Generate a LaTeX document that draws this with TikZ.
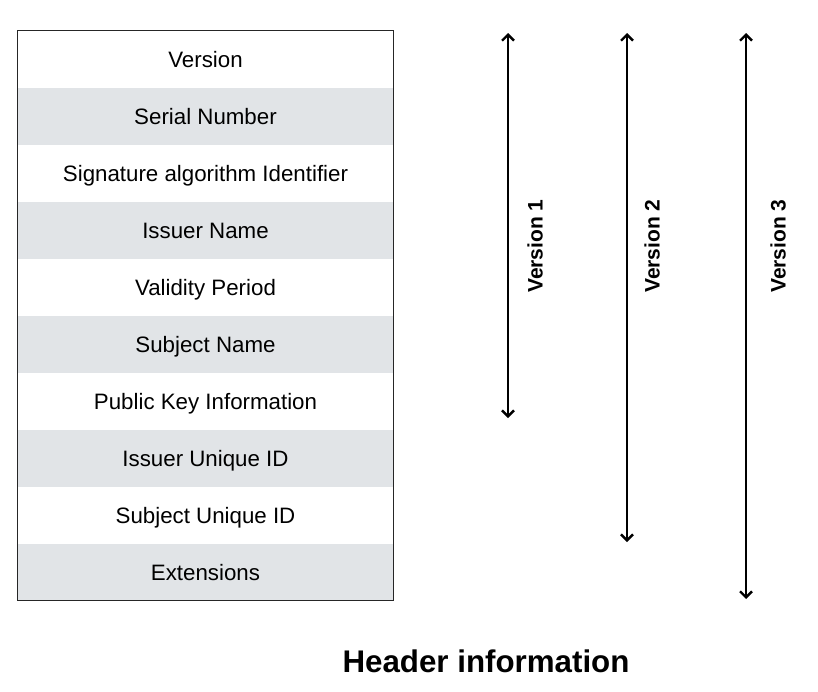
\documentclass[tikz,border=0pt]{standalone}
\usepackage{fontspec}
\setmainfont{Liberation Sans}
\definecolor{rowgray}{RGB}{225, 228, 231}
\usetikzlibrary{arrows.meta}

\begin{document}
\begin{tikzpicture}[x=1pt, y=1pt]
[every node/.style={inner sep=0pt}]
\useasboundingbox (0pt, 0pt) rectangle (818pt, -691pt);
\tikzset{field/.style={minimum width=376pt, minimum height=57pt, inner sep=0pt, text height=16pt, text depth=0pt, font=\fontsize{22.3}{24}\selectfont},
         span/.style={line width=2.4pt, {Straight Barb[length=6pt, width=12pt]}-{Straight Barb[length=6pt, width=12pt]}},
         spanlabel/.style={rotate=90, inner sep=0pt, font=\fontsize{21}{24}\selectfont\bfseries}}
\node (r1) [field] at (205.5pt, -59.5pt) {Version};
\node (r2) [field, fill=rowgray] at (205.5pt, -116.5pt) {Serial Number};
\node (r3) [field] at (205.5pt, -173.5pt) {Signature algorithm Identifier};
\node (r4) [field, fill=rowgray] at (205.5pt, -230.5pt) {Issuer Name};
\node (r5) [field] at (205.5pt, -287.5pt) {Validity Period};
\node (r6) [field, fill=rowgray] at (205.5pt, -344.5pt) {Subject Name};
\node (r7) [field] at (205.5pt, -401.5pt) {Public Key Information};
\node (r8) [field, fill=rowgray] at (205.5pt, -458.5pt) {Issuer Unique ID};
\node (r9) [field] at (205.5pt, -515.5pt) {Subject Unique ID};
\node (r10) [field, fill=rowgray] at (205.5pt, -572pt) {Extensions};
\draw [line width=1pt, color=black!85] (r1.north west) rectangle (r10.south east);
\coordinate (v1top) at (508pt, -33pt);
\coordinate (v1bot) at (508pt, -418pt);
\coordinate (v2top) at (627pt, -33pt);
\coordinate (v2bot) at (627pt, -542pt);
\coordinate (v3top) at (746pt, -33pt);
\coordinate (v3bot) at (746pt, -599pt);
\draw [span] (v1top) to (v1bot);
\draw [span] (v2top) to (v2bot);
\draw [span] (v3top) to (v3bot);
\node (l1) [spanlabel] at (535pt, -246pt) {Version 1};
\node (l2) [spanlabel] at (652pt, -246pt) {Version 2};
\node (l3) [spanlabel] at (778pt, -246pt) {Version 3};
\node (title) [font=\fontsize{31.3}{34}\selectfont\bfseries] at (486pt, -661pt) {Header information};
\end{tikzpicture}
\end{document}
